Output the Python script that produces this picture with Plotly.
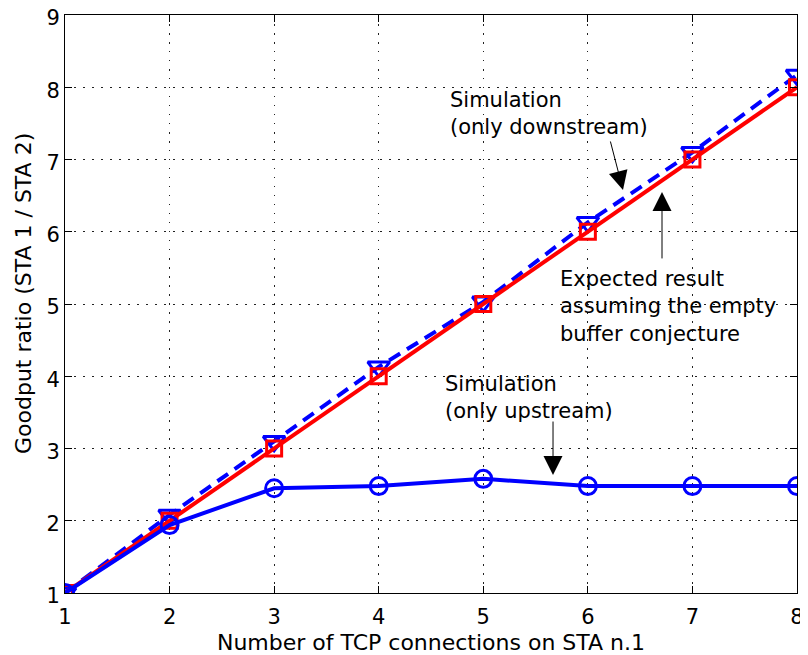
import plotly.graph_objects as go

x_conn = [1, 2, 3, 4, 5, 6, 7, 8]
sim_downstream = [1.0, 2.08, 3.10, 4.13, 5.03, 6.13, 7.10, 8.17]
expected = [1, 2, 3, 4, 5, 6, 7, 8]
sim_upstream = [1.0, 1.94, 2.45, 2.48, 2.58, 2.48, 2.48, 2.48]

x_ticks = [1, 2, 3, 4, 5, 6, 7, 8]
y_ticks = [1, 2, 3, 4, 5, 6, 7, 8, 9]

FONT = "DejaVu Sans"
BLUE = "#0000ff"
RED = "#ff0000"

fig = go.Figure()
fig.add_trace(go.Scatter(
    x=x_conn, y=sim_downstream, mode="lines+markers",
    line=dict(color=BLUE, width=4, dash="13px,8px"),
    marker=dict(symbol="triangle-down-open", size=19, color=BLUE, line=dict(width=3)),
    showlegend=False))
fig.add_trace(go.Scatter(
    x=x_conn, y=expected, mode="lines+markers",
    line=dict(color=RED, width=4),
    marker=dict(symbol="square-open", size=15, color=RED, line=dict(width=3)),
    showlegend=False))
fig.add_trace(go.Scatter(
    x=x_conn, y=sim_upstream, mode="lines+markers",
    line=dict(color=BLUE, width=4),
    marker=dict(symbol="circle-open", size=17, color=BLUE, line=dict(width=3)),
    showlegend=False))

ann_font = dict(family=FONT, size=21, color="black")
arrow_style = dict(text="", showarrow=True, arrowhead=2, arrowsize=3.8, arrowwidth=1,
                   arrowcolor="black", standoff=0, startstandoff=0,
                   xref="x", yref="y", axref="x", ayref="y")
annotations = [
    dict(x=4.663, y=8.02, xref="x", yref="y", text="Simulation<br>(only downstream)",
         showarrow=False, xanchor="left", yanchor="top", align="left", font=ann_font),
    dict(x=5.715, y=5.54, xref="x", yref="y",
         text="Expected result<br>assuming the empty<br>buffer conjecture",
         showarrow=False, xanchor="left", yanchor="top", align="left", font=ann_font),
    dict(x=4.615, y=4.09, xref="x", yref="y", text="Simulation<br>(only upstream)",
         showarrow=False, xanchor="left", yanchor="top", align="left", font=ann_font),
    dict(x=6.336, y=6.578, ax=6.212, ay=7.27, **arrow_style),
    dict(x=6.709, y=6.55, ax=6.709, ay=5.61, **arrow_style),
    dict(x=5.667, y=2.633, ax=5.667, ay=3.394, **arrow_style),
    # y-axis title
    dict(x=-0.0574, y=0.519, xref="paper", yref="paper", text="Goodput ratio (STA 1 / STA 2)",
         textangle=-90, showarrow=False, xanchor="center", yanchor="middle",
         font=dict(family=FONT, size=22, color="black")),
]

axis_common = dict(
    showline=True, linecolor="black", linewidth=1, mirror="ticks",
    ticks="inside", ticklen=7, tickcolor="black", tickwidth=1,
    showgrid=True, gridcolor="#222222", gridwidth=1, griddash="1.5px,7.5px",
    zeroline=False, automargin=False, ticklabeloverflow="allow",
    tickfont=dict(family=FONT, size=21, color="black"),
)

fig.update_layout(
    width=800, height=647,
    margin=dict(l=57, r=11, t=7, b=62),
    paper_bgcolor="white", plot_bgcolor="white",
    font=dict(family=FONT, size=21, color="black"),
    annotations=annotations,
    xaxis=dict(range=[1, 8], tickvals=x_ticks, ticktext=[str(v) for v in x_ticks],
               ticklabelstandoff=5,
               title=dict(text="Number of TCP connections on STA n.1", standoff=9,
                          font=dict(family=FONT, size=22)),
               **axis_common),
    yaxis=dict(range=[1, 9], tickvals=y_ticks, ticktext=[str(v) for v in y_ticks],
               ticklabelshift=3,
               **axis_common),
)

fig.write_html("out.html")
